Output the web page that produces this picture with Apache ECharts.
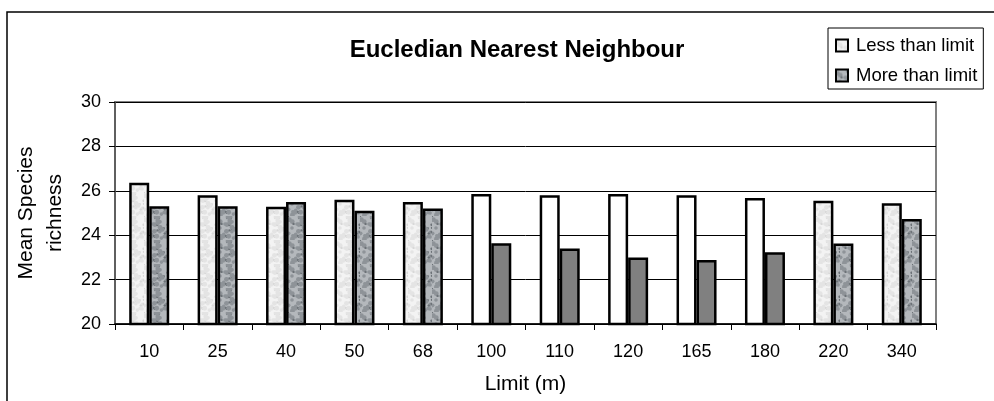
<!DOCTYPE html>
<html><head><meta charset="utf-8">
<script src="https://cdn.jsdelivr.net/npm/echarts@6/dist/echarts.min.js"></script>
<style>html,body{margin:0;padding:0;background:#fff}#c{width:994px;height:401px}</style>
</head><body><div id="c"></div>
<script>
const categories = ['10','25','40','50','68','100','110','120','165','180','220','340'];
const lessThan = [26.36, 25.8, 25.28, 25.6, 25.5, 25.86, 25.8, 25.86, 25.8, 25.68, 25.55, 25.44];
const moreThan = [25.3, 25.3, 25.5, 25.1, 25.2, 23.64, 23.4, 23.0, 22.88, 23.23, 23.63, 24.73];
const solidCats = ['100','110','120','165','180'];
const yTicks = [20, 22, 24, 26, 28, 30];

function makePattern(base, spot, dark) {
  const cv = document.createElement('canvas');
  cv.width = 24; cv.height = 24;
  const g = cv.getContext('2d');
  g.fillStyle = base; g.fillRect(0, 0, 24, 24);
  for (let i = 0; i < 40; i++) {
    const x = (Math.sin(i * 12.9898) * 43758.5453) % 1;
    const y = (Math.sin(i * 78.233) * 12345.6789) % 1;
    g.fillStyle = (i % 3 === 0) ? dark : spot;
    g.beginPath();
    g.arc(Math.abs(x) * 24, Math.abs(y) * 24, 1.2 + (i % 3) * 0.6, 0, Math.PI * 2);
    g.fill();
  }
  return cv;
}
const lightPat = makePattern('#f3f3f3', '#e4e4e4', '#d8d8d8');
const darkPat = makePattern('#b4b8bc', '#8e9398', '#6c7277');

const chart = echarts.init(document.getElementById('c'), null, {renderer: 'canvas'});
const font = 'Liberation Sans, Arial, sans-serif';
chart.setOption({
  animation: false,
  title: {
    text: 'Eucledian Nearest Neighbour', left: 512, top: 33, textAlign: 'center',
    textStyle: {fontFamily: font, fontSize: 24, fontWeight: 'bold', color: '#000'}
  },
  legend: {
    orient: 'vertical', left: 828, top: 28, width: 161,
    backgroundColor: '#fff', borderColor: '#000', borderWidth: 1,
    padding: [8, 6, 4, 7], itemGap: 11, itemWidth: 12, itemHeight: 12,
    icon: 'rect',
    textStyle: {fontFamily: font, fontSize: 18.5, color: '#000', padding: [0, 0, 0, 3]},
    data: ['Less than limit', 'More than limit']
  },
  graphic: [{
    type: 'rect', shape: {x: 7, y: 12, width: 1000, height: 420},
    style: {fill: 'none', stroke: '#000', lineWidth: 1.5}, silent: true, z: -10
  }, {
    type: 'rect', shape: {x: 115, y: 102, width: 821, height: 222},
    style: {fill: 'none', stroke: '#808080', lineWidth: 2}, silent: true, z: -1
  }],
  grid: {left: 115, right: 58, top: 102, bottom: 77},
  xAxis: {
    type: 'category', data: categories,
    name: 'Limit (m)', nameLocation: 'middle', nameGap: 50,
    nameTextStyle: {fontFamily: font, fontSize: 21, color: '#000'},
    axisLine: {lineStyle: {color: '#000', width: 1.5}},
    axisTick: {show: true, length: 6, lineStyle: {color: '#000'}},
    axisLabel: {fontFamily: font, fontSize: 18, color: '#000', margin: 19}
  },
  yAxis: {
    type: 'value', min: 20, max: 30, interval: 2,
    name: 'Mean Species\nrichness', nameLocation: 'middle', nameGap: 41,
    nameTextStyle: {fontFamily: font, fontSize: 21, color: '#000', lineHeight: 29},
    axisLine: {show: true, lineStyle: {color: '#555', width: 1.5}},
    axisTick: {show: true, length: 6, lineStyle: {color: '#000'}},
    axisLabel: {fontFamily: font, fontSize: 18, color: '#000', margin: 14,
      formatter: v => yTicks.includes(v) ? String(v) : ''},
    splitLine: {show: true, lineStyle: {color: '#000', width: 1}}
  },
  series: [{
    name: 'Less than limit', type: 'bar', barWidth: 20, barGap: '0%',
    itemStyle: {color: {image: lightPat, repeat: 'repeat'}, borderColor: '#000', borderWidth: 2.5},
    data: lessThan.map((v, i) => solidCats.includes(categories[i])
      ? {value: v, itemStyle: {color: '#ffffff'}} : v)
  }, {
    name: 'More than limit', type: 'bar', barWidth: 20, barGap: '0%',
    itemStyle: {color: {image: darkPat, repeat: 'repeat'}, borderColor: '#000', borderWidth: 2.5},
    data: moreThan.map((v, i) => solidCats.includes(categories[i])
      ? {value: v, itemStyle: {color: '#808080'}} : v)
  }]
});
</script></body></html>
